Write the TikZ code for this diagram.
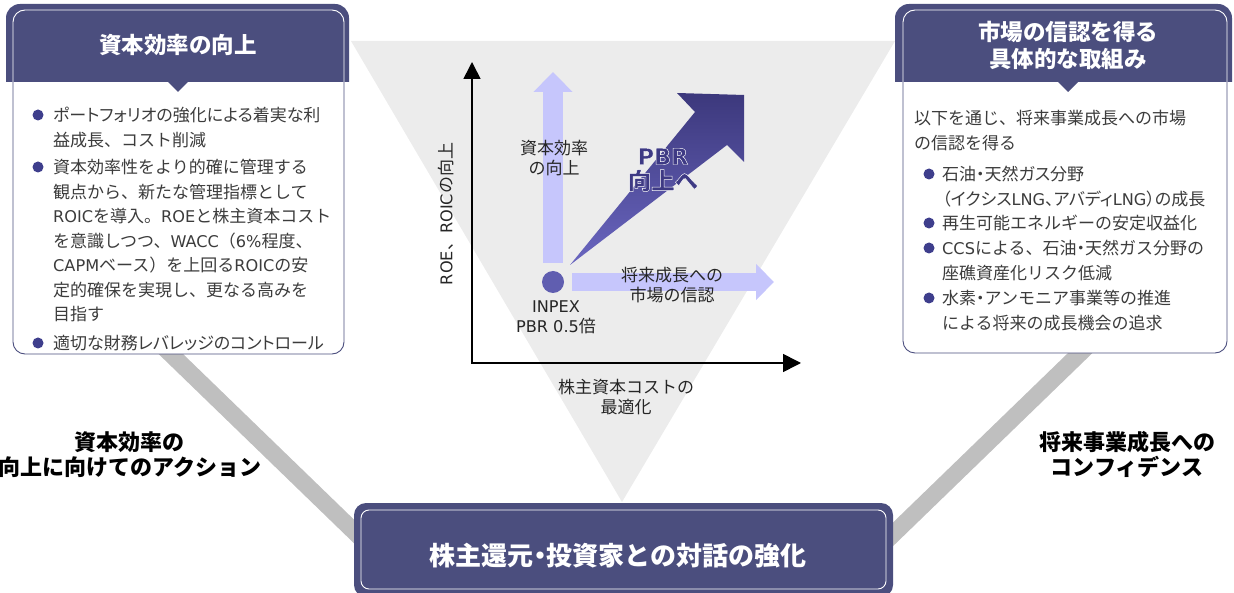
\documentclass[tikz,border=0pt]{standalone}
\usepackage{fontspec}
\setmainfont{Noto Sans CJK JP}
\newfontfamily\pjp{Noto Sans CJK JP}[RawFeature=+palt]
\newfontfamily\lt{DejaVu Sans}[Scale=0.95]
\usetikzlibrary{arrows.meta}
\definecolor{hdr}{RGB}{75,78,126}
\definecolor{bul}{RGB}{62,62,140}
\definecolor{txt}{RGB}{60,60,60}
\definecolor{lab}{RGB}{38,38,38}
\definecolor{lav}{RGB}{198,198,252}
\definecolor{dotc}{RGB}{96,94,176}
\definecolor{tri}{RGB}{236,236,236}
\definecolor{barc}{RGB}{191,191,191}
\definecolor{arrtop}{RGB}{60,56,124}
\definecolor{arrbot}{RGB}{106,102,192}
\definecolor{pbrc}{RGB}{62,58,132}
\newcommand\myfs[2]{\fontsize{#1pt}{#2pt}\selectfont}
\newcommand\outlineon{\special{pdf:literal direct 2 Tr 0.45 w 1 1 1 RG}}
\newcommand\outlineoff{\special{pdf:literal direct 0 Tr}}
\tikzset{
  bodytext/.style={anchor=north west, inner sep=0pt, align=left, text=txt, font=\myfs{17}{24.5}},
  hdrtext/.style={inner sep=0pt, align=center, text=white, font=\bfseries\myfs{22.5}{27}},
  sidelabel/.style={inner sep=0pt, align=center, text=black, font=\bfseries\myfs{22}{25}},
  plotlabel/.style={inner sep=0pt, align=center, text=lab, font=\myfs{17}{20}},
  pbrlabel/.style={inner sep=0pt, align=center, font=\bfseries\myfs{23.5}{25}},
  bodybox/.style={draw=hdr, fill=white, line width=0.9pt, rounded corners=12pt},
  innerline/.style={draw=white, line width=0.9pt},
  bararm/.style={draw=barc, line width=17pt},
  bulletdot/.style={fill=bul},
}
\begin{document}
\begin{tikzpicture}[x=1pt,y=-1pt]
\useasboundingbox (0,0) rectangle (1234,593);
% grey funnel
\fill[tri] (351,41) -- (895,41) -- (622,502) -- cycle;
% grey arms
\coordinate (la1) at (146,330); \coordinate (la2) at (399,575);
\coordinate (ra1) at (1104,330); \coordinate (ra2) at (851,575);
\draw[bararm] (la1) -- (la2);
\draw[bararm] (ra1) -- (ra2);

% ---------- boxes ----------
\draw[bodybox] (13,10) rectangle (344,354);
\draw[bodybox] (903,10) rectangle (1227,353);
\begin{scope}
  \clip (0,0) rectangle (1234,82);
  \fill[hdr, rounded corners=14pt] (6,4) rectangle (349,120);
  \draw[innerline, rounded corners=12pt] (13,10) rectangle (344,354);
  \fill[hdr, rounded corners=14pt] (895,4) rectangle (1232,120);
  \draw[innerline, rounded corners=12pt] (903,10) rectangle (1227,353);
\end{scope}
\fill[hdr] (167,81) -- (189,81) -- (178,92) -- cycle;
\fill[hdr] (1057,81) -- (1079,81) -- (1068,92) -- cycle;
\node[hdrtext] (lhead) at (178,45) {資本効率の向上};
\node[hdrtext] (rhead) at (1068,45.5) {市場の信認を得る\\具体的な取組み};

% left body
\fill[bulletdot] (38,115) circle (5.5);
\fill[bulletdot] (38,167) circle (5.5);
\fill[bulletdot] (38,343) circle (5.5);
\node[bodytext] (l1) at (53,104.4) {\strut{\pjp ポートフォリオの強化による着実な利}\\益成長、コスト削減};
\node[bodytext] (l2) at (53,156.4) {\strut 資本効率性をより的確に管理する\\観点から、新たな管理指標として\\{\lt ROIC}を導入。{\lt ROE}と株主資本コスト\\を意識しつつ、{\lt WACC}（{\lt 6\%}程度、\\{\lt CAPM}ベース）を上回る{\lt ROIC}の安\\定的確保を実現し、更なる高みを\\目指す};
\node[bodytext] (l3) at (53,332.4) {\strut{\pjp 適切な財務レバレッジのコントロール}};

% right body
\fill[bulletdot] (929,174) circle (5.5);
\fill[bulletdot] (929,223) circle (5.5);
\fill[bulletdot] (929,248) circle (5.5);
\fill[bulletdot] (929,298) circle (5.5);
\node[bodytext] (r0) at (914,107.4) {\strut 以下を通じ、将来事業成長への市場\\の信認を得る};
\node[bodytext] (r1) at (942,163.4) {\strut{\pjp 石油・天然ガス分野}\\{\pjp （イクシス{\lt LNG}、アバディ{\lt LNG}）の成長}};
\node[bodytext] (r2) at (942,212.4) {\strut 再生可能エネルギーの安定収益化};
\node[bodytext] (r3) at (942,237.4) {\strut{\lt CCS}による、石油{\pjp ・}天然ガス分野の\\座礁資産化リスク低減};
\node[bodytext] (r4) at (942,287.4) {\strut 水素{\pjp ・}アンモニア事業等の推進\\による将来の成長機会の追求};

% ---------- bottom box ----------
\fill[hdr, rounded corners=12pt] (354,503) rectangle (893,597);
\draw[innerline, rounded corners=8pt] (361,510) rectangle (886,589);
\node[inner sep=0pt, text=white, font=\bfseries\myfs{26}{30}] (bottom) at (618,556) {株主還元{\pjp ・}投資家との対話の強化};

% side labels
\node[sidelabel] (lside) at (130,454.5) {資本効率の\\向上に向けてのアクション};
\node[sidelabel] (rside) at (1127,454.5) {将来事業成長への\\コンフィデンス};

% ---------- chart ----------
\coordinate (O) at (472,363);
\coordinate (ytip) at (472,62);
\coordinate (xtip) at (801,363);
\draw[line width=1.6pt, {Triangle[length=17pt,width=17pt]}-{Triangle[length=18pt,width=18pt]}] (ytip) -- (O) -- (xtip);

\node[circle, fill=dotc, minimum size=22pt, inner sep=0pt] (inpex) at (553,282) {};
\coordinate (vs) at (553,263); \coordinate (ve) at (553,72);
\coordinate (hs) at (572,282); \coordinate (he) at (774,282);
\draw[lav, line width=20pt, -{Triangle[length=20pt,width=38pt]}] (vs) -- (ve);
\draw[lav, line width=18pt, -{Triangle[length=18pt,width=35pt]}] (hs) -- (he);

\shade[top color=arrtop, bottom color=arrbot] (570,265) -- (695,112) -- (677,93) -- (744,95) -- (744,162) -- (727,145) -- cycle;

\node[plotlabel] (capeff) at (554,158) {資本効率\\の向上};
\node[plotlabel] (market) at (672,285) {将来成長への\\市場の信認};
\node[plotlabel] (inpexlab) at (556,317) {{\lt INPEX}\\{\lt PBR 0.5}倍};
\node[plotlabel] (xlab) at (626,397) {株主資本コストの\\最適化};
\node[plotlabel, rotate=90] (ylab) at (446,214) {{\lt ROE}、{\lt ROIC}の向上};

\node[pbrlabel, text=pbrc] (pbr) at (663,170) {\outlineon{\lt PBR}\\向上へ\outlineoff};
\end{tikzpicture}
\end{document}
